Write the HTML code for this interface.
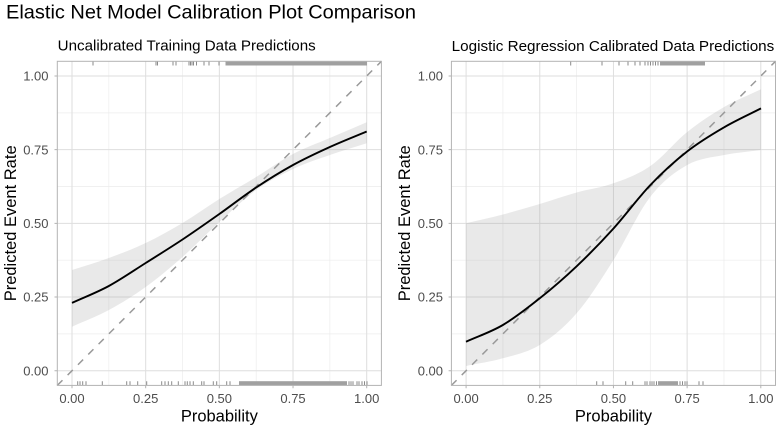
<!DOCTYPE html>
<html>
<head>
<meta charset="utf-8">
<style>
html,body{margin:0;padding:0;background:#fff;}
svg{display:block;}
text{font-family:"Liberation Sans",Arial,sans-serif;}
</style>
</head>
<body>
<svg width="780" height="429" viewBox="0 0 780 429" xmlns="http://www.w3.org/2000/svg">
<rect x="0" y="0" width="780" height="429" fill="#fff"/>

<!-- Title -->
<text x="6" y="18.5" font-size="19.5" fill="#000" textLength="410" lengthAdjust="spacingAndGlyphs">Elastic Net Model Calibration Plot Comparison</text>

<!-- ================= LEFT PANEL ================= -->
<text x="57.7" y="50.7" font-size="15" fill="#000" textLength="258" lengthAdjust="spacingAndGlyphs">Uncalibrated Training Data Predictions</text>

<g stroke="#ececec" stroke-width="0.7" fill="none">
<path d="M108.84,61.3V385.4M182.51,61.3V385.4M256.19,61.3V385.4M329.86,61.3V385.4"/>
<path d="M57.3,333.86H381.4M57.3,260.19H381.4M57.3,186.51H381.4M57.3,112.84H381.4"/>
</g>
<g stroke="#dedede" stroke-width="1" fill="none">
<path d="M72,61.3V385.4M145.68,61.3V385.4M219.35,61.3V385.4M293.03,61.3V385.4M366.7,61.3V385.4"/>
<path d="M57.3,370.7H381.4M57.3,297.03H381.4M57.3,223.35H381.4M57.3,149.68H381.4M57.3,76H381.4"/>
</g>

<path fill="#999" fill-opacity="0.22" stroke="none" d="M72,270
C84.28,266 96.56,262.5 108.84,258
C121.12,253.5 133.4,248.83 145.68,243
C157.96,237.17 170.23,230.33 182.51,223
C194.79,215.67 207.07,206.67 219.35,199
C231.63,191.33 243.91,184.5 256.19,177
C268.47,169.5 280.75,160.5 293.03,154
C305.31,147.5 317.58,143.28 329.86,138
C342.14,132.72 354.42,127.53 366.7,122.3
L366.7,143.3
C354.42,147.2 342.14,150.72 329.86,155
C317.58,159.28 305.31,163.17 293.03,169
C280.75,174.83 268.47,181.17 256.19,190
C243.91,198.83 231.63,210.83 219.35,222
C207.07,233.17 194.79,246.17 182.51,257
C170.23,267.83 157.96,278.17 145.68,287
C133.4,295.83 121.12,303.38 108.84,310
C96.56,316.62 84.28,321.13 72,326.7Z"/>

<line x1="57.3" y1="385.4" x2="381.4" y2="61.3" stroke="#999" stroke-width="1.5" stroke-dasharray="7.3 7.3"/>

<path fill="none" stroke="#000" stroke-width="1.9" d="M72,302.9
C84.28,297.27 96.56,292.65 108.84,286
C121.12,279.35 133.4,270.75 145.68,263
C157.96,255.25 170.23,247.67 182.51,239.5
C194.79,231.33 207.07,222.67 219.35,214
C231.63,205.33 243.91,195.67 256.19,187.5
C268.47,179.33 280.75,171.75 293.03,165
C305.31,158.25 317.58,152.58 329.86,147
C342.14,141.42 354.42,136.67 366.7,131.5"/>

<g stroke="#8a8a8a" stroke-width="1">
<path d="M93,61.3V65.5M156,61.3V65.5M157.5,61.3V65.5M173,61.3V65.5M176,61.3V65.5M189,61.3V65.5M190.5,61.3V65.5M192,61.3V65.5M193.5,61.3V65.5M196.5,61.3V65.5M204,61.3V65.5M209,61.3V65.5M219,61.3V65.5"/>
<path d="M77.7,381.2V385.4M80,381.2V385.4M82.7,381.2V385.4M86,381.2V385.4M102.3,381.2V385.4M126.7,381.2V385.4M130,381.2V385.4M137.7,381.2V385.4M146.7,381.2V385.4M161.7,381.2V385.4M165,381.2V385.4M168.3,381.2V385.4M171.7,381.2V385.4M178.3,381.2V385.4M185,381.2V385.4M187.3,381.2V385.4M190,381.2V385.4M193.3,381.2V385.4M201.7,381.2V385.4M204,381.2V385.4M213.3,381.2V385.4M216.7,381.2V385.4M226.7,381.2V385.4M230,381.2V385.4M349,381.2V385.4M351,381.2V385.4M353,381.2V385.4M357,381.2V385.4M359,381.2V385.4M362,381.2V385.4M364.5,381.2V385.4M367,381.2V385.4"/>
</g>
<rect x="225.5" y="61.3" width="141.5" height="4.2" fill="#a0a0a0"/>
<rect x="239" y="381.2" width="108" height="4.2" fill="#a0a0a0"/>

<rect x="57.3" y="61.3" width="324.1" height="324.1" fill="none" stroke="#b3b3b3" stroke-width="1"/>

<g stroke="#b3b3b3" stroke-width="1">
<path d="M54.5,370.7H57.3M54.5,297.03H57.3M54.5,223.35H57.3M54.5,149.68H57.3M54.5,76H57.3"/>
<path d="M72,385.4V388.2M145.68,385.4V388.2M219.35,385.4V388.2M293.03,385.4V388.2M366.7,385.4V388.2"/>
</g>
<g font-size="13" fill="#4d4d4d" text-anchor="end">
<text x="48.5" y="375.3">0.00</text>
<text x="48.5" y="301.6">0.25</text>
<text x="48.5" y="228">0.50</text>
<text x="48.5" y="154.3">0.75</text>
<text x="48.5" y="80.6">1.00</text>
</g>
<g font-size="13" fill="#4d4d4d" text-anchor="middle">
<text x="72" y="403">0.00</text>
<text x="145.68" y="403">0.25</text>
<text x="219.35" y="403">0.50</text>
<text x="293.03" y="403">0.75</text>
<text x="366.7" y="403">1.00</text>
</g>
<text x="219.35" y="421.7" font-size="16.5" fill="#000" text-anchor="middle">Probability</text>
<text transform="translate(16,223.35) rotate(-90)" x="0" y="0" font-size="16.5" fill="#000" text-anchor="middle">Predicted Event Rate</text>

<!-- ================= RIGHT PANEL ================= -->
<text x="451.7" y="51" font-size="15" fill="#000" textLength="322.6" lengthAdjust="spacingAndGlyphs">Logistic Regression Calibrated Data Predictions</text>

<g stroke="#ececec" stroke-width="0.7" fill="none">
<path d="M502.94,61.3V385.4M576.61,61.3V385.4M650.29,61.3V385.4M723.96,61.3V385.4"/>
<path d="M451.4,333.86H775.5M451.4,260.19H775.5M451.4,186.51H775.5M451.4,112.84H775.5"/>
</g>
<g stroke="#dedede" stroke-width="1" fill="none">
<path d="M466.1,61.3V385.4M539.78,61.3V385.4M613.45,61.3V385.4M687.13,61.3V385.4M760.8,61.3V385.4"/>
<path d="M451.4,370.7H775.5M451.4,297.03H775.5M451.4,223.35H775.5M451.4,149.68H775.5M451.4,76H775.5"/>
</g>

<path fill="#999" fill-opacity="0.22" stroke="none" d="M466,223.3
C478.29,220.37 490.59,217.72 502.88,214.5
C515.17,211.28 527.46,207.67 539.75,204
C552.04,200.33 564.34,195.95 576.63,192.5
C588.92,189.05 601.21,187.72 613.5,183.3
C625.79,178.88 638.09,174.55 650.38,166
C662.67,157.45 674.96,141.83 687.25,132
C699.54,122.17 711.84,114.12 724.13,107
C736.42,99.88 748.71,95.2 761,89.3
L761,150
C748.71,151.67 736.42,152.5 724.13,155
C711.84,157.5 699.54,158.05 687.25,165
C674.96,171.95 662.67,180.87 650.38,196.7
C638.09,212.53 625.79,240.57 613.5,260
C601.21,279.43 588.92,299.13 576.63,313.3
C564.34,327.47 552.04,337.5 539.75,345
C527.46,352.5 515.17,354.8 502.88,358.3
C490.59,361.8 478.29,363.43 466,366Z"/>

<line x1="451.4" y1="385.4" x2="775.5" y2="61.3" stroke="#999" stroke-width="1.5" stroke-dasharray="7.3 7.3"/>

<path fill="none" stroke="#000" stroke-width="1.9" d="M466,341.7
C478.29,336.13 490.59,332.23 502.88,325
C515.17,317.77 527.46,308.08 539.75,298.3
C552.04,288.52 564.34,277.93 576.63,266.3
C588.92,254.67 601.21,242.05 613.5,228.5
C625.79,214.95 638.09,197.85 650.38,185
C662.67,172.15 674.96,161.02 687.25,151.4
C699.54,141.78 711.84,134.47 724.13,127.3
C736.42,120.13 748.71,114.7 761,108.4"/>

<g stroke="#8a8a8a" stroke-width="1">
<path d="M570.7,61.3V65.5M602,61.3V65.5M619,61.3V65.5M628,61.3V65.5M635,61.3V65.5M640,61.3V65.5M645,61.3V65.5M648,61.3V65.5M650.5,61.3V65.5M653,61.3V65.5M655.5,61.3V65.5M658,61.3V65.5"/>
<path d="M596.7,381.2V385.4M603,381.2V385.4M625.7,381.2V385.4M632.7,381.2V385.4M645,381.2V385.4M647,381.2V385.4M650,381.2V385.4M652,381.2V385.4M654,381.2V385.4M656.5,381.2V385.4M680,381.2V385.4M682.5,381.2V385.4M685,381.2V385.4M687,381.2V385.4M699,381.2V385.4M703,381.2V385.4"/>
</g>
<rect x="660" y="61.3" width="45" height="4.2" fill="#a0a0a0"/>
<rect x="658" y="381.2" width="20" height="4.2" fill="#a0a0a0"/>

<rect x="451.4" y="61.3" width="324.1" height="324.1" fill="none" stroke="#b3b3b3" stroke-width="1"/>

<g stroke="#b3b3b3" stroke-width="1">
<path d="M448.6,370.7H451.4M448.6,297.03H451.4M448.6,223.35H451.4M448.6,149.68H451.4M448.6,76H451.4"/>
<path d="M466.1,385.4V388.2M539.78,385.4V388.2M613.45,385.4V388.2M687.13,385.4V388.2M760.8,385.4V388.2"/>
</g>
<g font-size="13" fill="#4d4d4d" text-anchor="end">
<text x="443" y="375.3">0.00</text>
<text x="443" y="301.6">0.25</text>
<text x="443" y="228">0.50</text>
<text x="443" y="154.3">0.75</text>
<text x="443" y="80.6">1.00</text>
</g>
<g font-size="13" fill="#4d4d4d" text-anchor="middle">
<text x="466.1" y="403">0.00</text>
<text x="539.78" y="403">0.25</text>
<text x="613.45" y="403">0.50</text>
<text x="687.13" y="403">0.75</text>
<text x="760.8" y="403">1.00</text>
</g>
<text x="613.45" y="421.7" font-size="16.5" fill="#000" text-anchor="middle">Probability</text>
<text transform="translate(410,223.35) rotate(-90)" x="0" y="0" font-size="16.5" fill="#000" text-anchor="middle">Predicted Event Rate</text>
</svg>
</body>
</html>
